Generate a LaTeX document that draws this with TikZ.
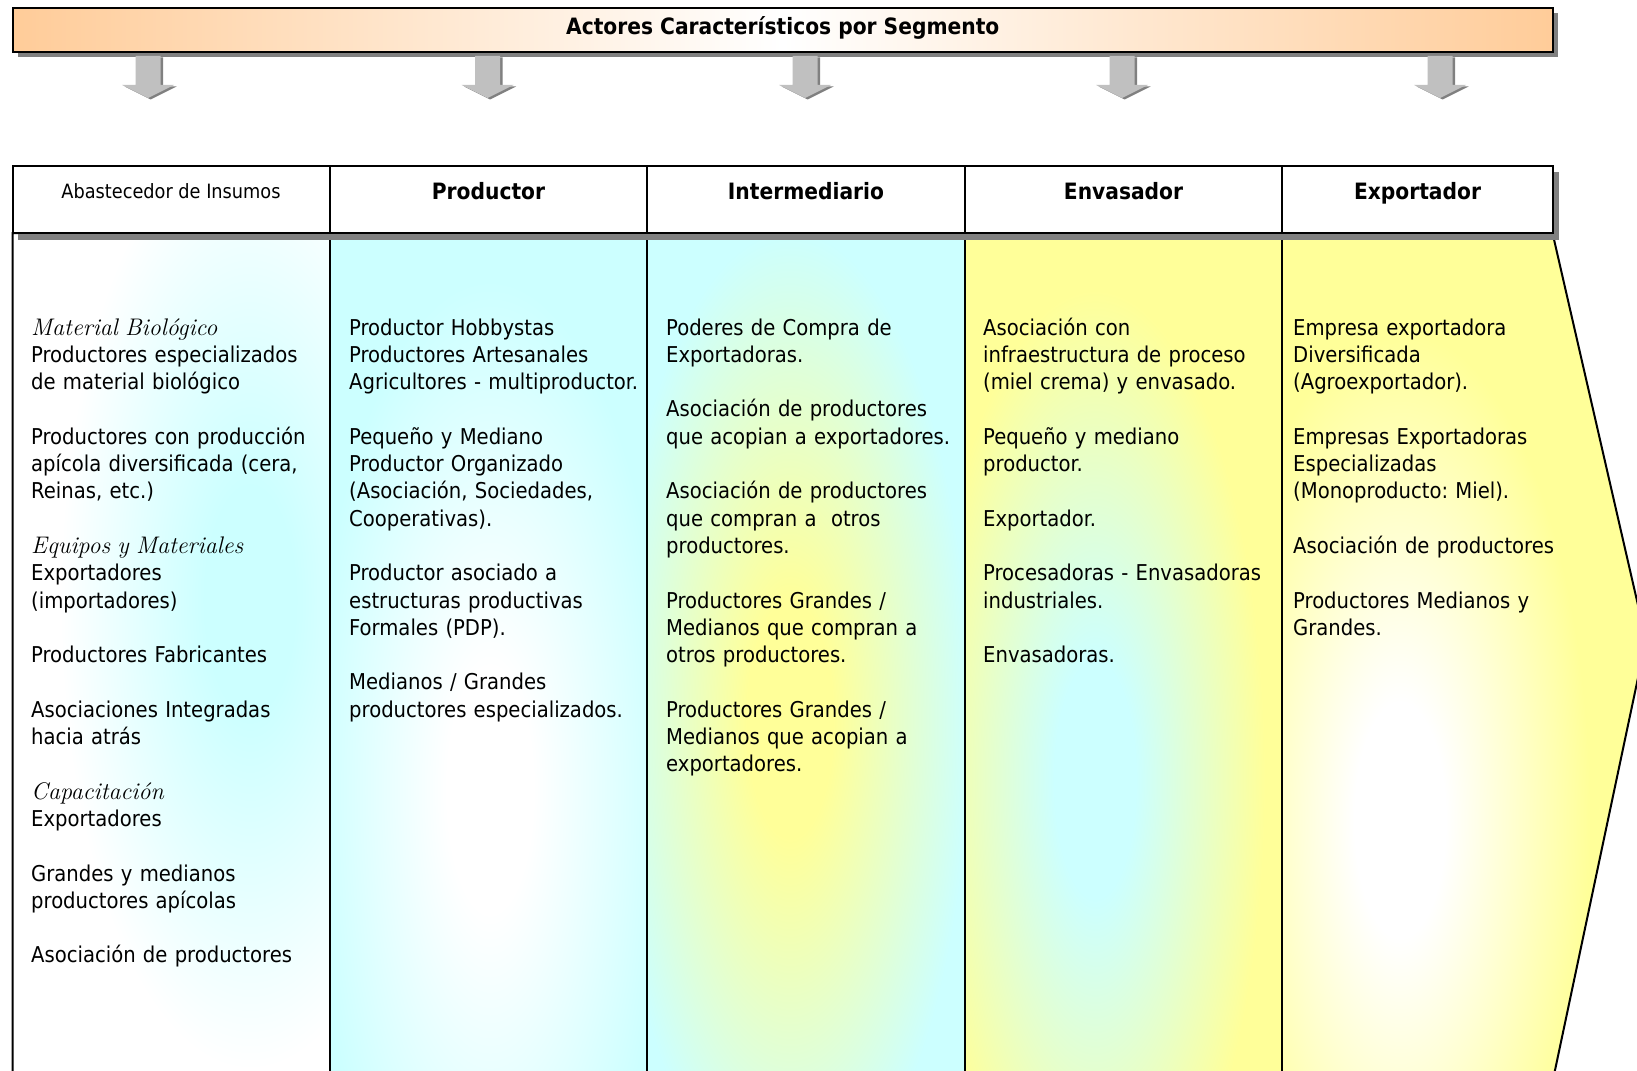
\documentclass[tikz,border=0pt]{standalone}
\usepackage{fontspec}
\newfontfamily\uifont{DejaVu Sans Condensed}
\definecolor{barorange}{HTML}{FFCC99}
\definecolor{palecyan}{HTML}{CCFFFF}
\definecolor{paleyellow}{HTML}{FFFF99}
\definecolor{shadowgray}{HTML}{808080}
\definecolor{arrowgray}{HTML}{C0C0C0}
\colorlet{glowin}{white}
\colorlet{glowout}{white}
% soft spot: flat centre, then a fade towards the rim of the path
\pgfdeclareradialshading[glowin,glowout]{glow}{\pgfpointorigin}{%
  color(0bp)=(glowin); color(6bp)=(glowin); color(25bp)=(glowout); color(50bp)=(glowout)}
\newcommand{\blankrow}{\\[27.3pt]}
\newcommand{\subhead}[1]{{\rmfamily\itshape\fontsize{24pt}{27.3pt}\selectfont #1}}

\begin{document}
\frenchspacing
\begin{tikzpicture}[x=1pt, y=-1pt,
  frame/.style={draw=black, line width=2pt},
  divider/.style={draw=black, line width=1.6pt},
  dropshadow/.style={fill=shadowgray, draw=none},
  bodytext/.style={anchor=base west, inner sep=0pt, align=left, text width=320pt,
    font=\uifont\fontsize{21.8pt}{27.3pt}\selectfont},
  headtext/.style={anchor=base, inner sep=0pt, font=\uifont\bfseries\fontsize{22.5pt}{26pt}\selectfont},
  plainhead/.style={anchor=base, inner sep=0pt, font=\uifont\fontsize{19.7pt}{24pt}\selectfont},
  downarrow/.style={fill=arrowgray, draw=none},
]
\useasboundingbox (0,0) rectangle (1637,1070);
\fill[white] (0,0) rectangle (1637,1070);

% ---- title banner ----
\fill[dropshadow] (17.5,13.5) rectangle (1558,57);
\shade[left color=barorange, right color=barorange, middle color=white] (12.5,8.5) rectangle (1553,52);
\draw[frame] (12.5,8.5) rectangle (1553,52);
\node[headtext] (title) at (782.75,34.5) {Actores Característicos por Segmento};

% ---- block arrows under the banner ----
\foreach \ax in {148,487.5,805,1122,1440} {
  \begin{scope}[shift={(\ax+2.5,1.5)}]
    \fill[dropshadow] (-12.5,56) -- (12.5,56) -- (12.5,85) -- (26,85) -- (0,98) -- (-26,85) -- (-12.5,85) -- cycle;
  \end{scope}
  \begin{scope}[shift={(\ax,0)}]
    \fill[downarrow] (-12.5,56) -- (12.5,56) -- (12.5,85) -- (26,85) -- (0,98) -- (-26,85) -- (-12.5,85) -- cycle;
  \end{scope}
}

% ---- body: five segment columns ending in a chevron ----
\coordinate (tl) at (12.5,233);
\coordinate (tr) at (1552.5,233);
\coordinate (tip) at (1646,640);
\coordinate (br) at (1552.5,1082);
\coordinate (bl) at (12.5,1082);

\begin{scope}[shift={(4,3)}]
  \fill[dropshadow] (tl) -- (tr) -- (tip) -- (br) -- (bl) -- cycle;
\end{scope}

% column 1
\begin{scope}
  \clip (12.5,233) rectangle (330,1082);
  \fill[white] (12.5,233) rectangle (330,1082);
  \colorlet{glowin}{palecyan}\colorlet{glowout}{white}
  \shade[shading=glow] (250,600) ellipse [x radius=190, y radius=470];
\end{scope}
% column 2
\begin{scope}
  \clip (330,233) rectangle (647,1082);
  \fill[palecyan] (330,233) rectangle (647,1082);
  \colorlet{glowin}{white}\colorlet{glowout}{palecyan}
  \shade[shading=glow] (490,790) ellipse [x radius=180, y radius=510];
\end{scope}
% column 3
\begin{scope}
  \clip (647,233) rectangle (965,1082);
  \fill[palecyan] (647,233) rectangle (965,1082);
  \colorlet{glowin}{paleyellow}\colorlet{glowout}{palecyan}
  \shade[shading=glow] (790,720) ellipse [x radius=180, y radius=490];
\end{scope}
% column 4
\begin{scope}
  \clip (965,233) rectangle (1282,1082);
  \fill[paleyellow] (965,233) rectangle (1282,1082);
  \colorlet{glowin}{palecyan}\colorlet{glowout}{paleyellow}
  \shade[shading=glow] (1095,780) ellipse [x radius=170, y radius=490];
\end{scope}
% column 5 (chevron)
\begin{scope}
  \clip (1282,233) -- (tr) -- (tip) -- (br) -- (1282,1082) -- cycle;
  \fill[paleyellow] (1282,233) rectangle (1650,1082);
  \colorlet{glowin}{white}\colorlet{glowout}{paleyellow}
  \shade[shading=glow] (1400,820) ellipse [x radius=190, y radius=490];
\end{scope}

\draw[frame] (bl) -- (tl) -- (tr) -- (tip) -- (br);
\foreach \cx in {330,647,965,1282} {
  \draw[divider] (\cx,233) -- (\cx,1082);
}

% ---- header row ----
\fill[dropshadow] (17.5,172) rectangle (1559,240);
\draw[frame, fill=white] (12.5,166) rectangle (1553,233);
\foreach \cx in {330,647,965,1282} {
  \draw[frame] (\cx,166) -- (\cx,233);
}
\node[plainhead] (h1) at (171,198) {Abastecedor de Insumos};
\node[headtext] (h2) at (488.5,199) {Productor};
\node[headtext] (h3) at (806,199) {Intermediario};
\node[headtext] (h4) at (1123.5,199) {Envasador};
\node[headtext] (h5) at (1417.5,199) {Exportador};

% ---- column texts ----
\node[bodytext] (t1) at (31,335) {%
\subhead{Material Biológico}\\
Productores especializados\\
de material biológico\blankrow
Productores con producción\\
apícola diversificada (cera,\\
Reinas, etc.)\blankrow
\subhead{Equipos y Materiales}\\
Exportadores\\
(importadores)\blankrow
Productores Fabricantes\blankrow
Asociaciones Integradas\\
hacia atrás\blankrow
\subhead{Capacitación}\\
Exportadores\blankrow
Grandes y medianos\\
productores apícolas\blankrow
Asociación de productores};

\node[bodytext] (t2) at (349,335) {%
Productor Hobbystas\\
Productores Artesanales\\
Agricultores - multiproductor.\blankrow
Pequeño y Mediano\\
Productor Organizado\\
(Asociación, Sociedades,\\
Cooperativas).\blankrow
Productor asociado a\\
estructuras productivas\\
Formales (PDP).\blankrow
Medianos / Grandes\\
productores especializados.};

\node[bodytext] (t3) at (666,335) {%
Poderes de Compra de\\
Exportadoras.\blankrow
Asociación de productores\\
que acopian a exportadores.\blankrow
Asociación de productores\\
que compran a~~otros\\
productores.\blankrow
Productores Grandes /\\
Medianos que compran a\\
otros productores.\blankrow
Productores Grandes /\\
Medianos que acopian a\\
exportadores.};

\node[bodytext] (t4) at (983,335) {%
Asociación con\\
infraestructura de proceso\\
(miel crema) y envasado.\blankrow
Pequeño y mediano\\
productor.\blankrow
Exportador.\blankrow
Procesadoras - Envasadoras\\
industriales.\blankrow
Envasadoras.};

\node[bodytext] (t5) at (1293,335) {%
Empresa exportadora\\
Diversificada\\
(Agroexportador).\blankrow
Empresas Exportadoras\\
Especializadas\\
(Monoproducto: Miel).\blankrow
Asociación de productores\blankrow
Productores Medianos y\\
Grandes.};
\end{tikzpicture}
\end{document}
